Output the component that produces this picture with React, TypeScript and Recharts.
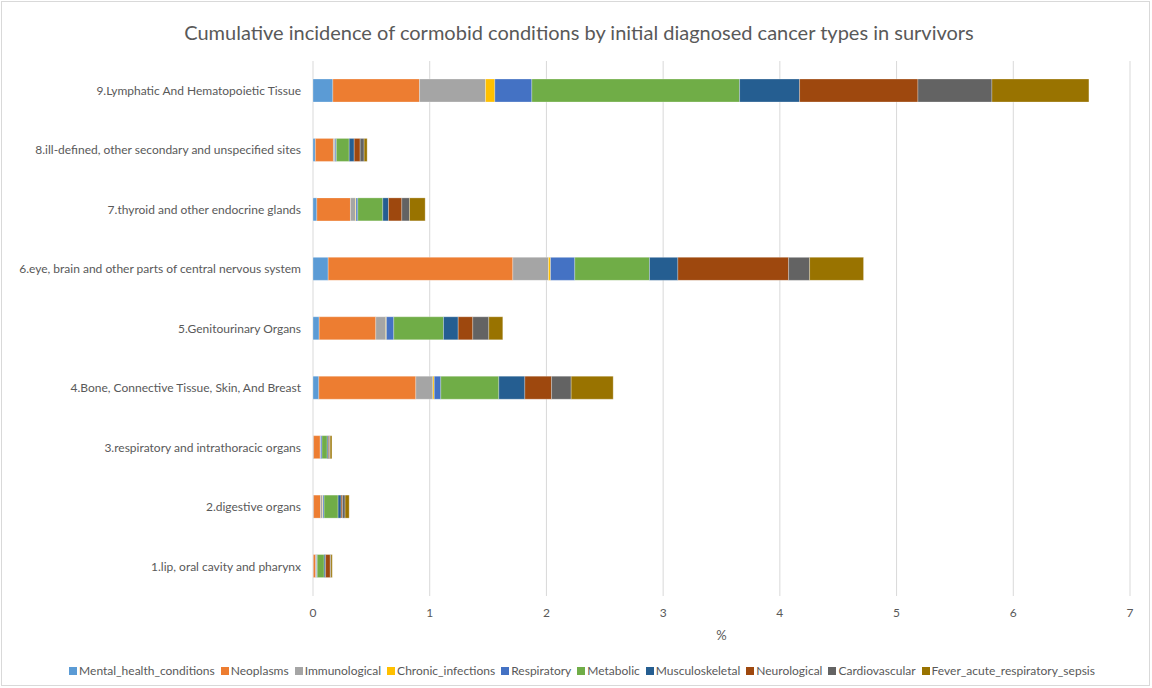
import React from "react";
import { BarChart, Bar, XAxis, YAxis, CartesianGrid, Legend, Label } from "recharts";

const categories = [
  "1.lip, oral cavity and pharynx",
  "2.digestive organs",
  "3.respiratory and intrathoracic organs",
  "4.Bone, Connective Tissue, Skin, And Breast",
  "5.Genitourinary Organs",
  "6.eye, brain and other parts of central nervous system",
  "7.thyroid and other endocrine glands",
  "8.ill-defined, other secondary and unspecified sites",
  "9.Lymphatic And Hematopoietic Tissue",
];

const seriesNames = [
  "Mental_health_conditions",
  "Neoplasms",
  "Immunological",
  "Chronic_infections",
  "Respiratory",
  "Metabolic",
  "Musculoskeletal",
  "Neurological",
  "Cardiovascular",
  "Fever_acute_respiratory_sepsis",
];

const seriesColors = [
  "#5B9BD5",
  "#ED7D31",
  "#A5A5A5",
  "#FFC000",
  "#4472C4",
  "#70AD47",
  "#255E91",
  "#9E480E",
  "#636363",
  "#997300",
];

const mentalHealth = [0.003, 0.005, 0.005, 0.05, 0.053, 0.13, 0.033, 0.02, 0.17];
const neoplasms = [0.02, 0.06, 0.057, 0.831, 0.485, 1.582, 0.288, 0.155, 0.743];
const immunological = [0.008, 0.017, 0.005, 0.146, 0.086, 0.306, 0.043, 0.013, 0.565];
const chronicInfections = [0, 0.003, 0, 0.012, 0.005, 0.017, 0.005, 0.002, 0.08];
const respiratory = [0.005, 0.01, 0.01, 0.056, 0.063, 0.208, 0.015, 0.01, 0.317];
const metabolic = [0.06, 0.12, 0.045, 0.497, 0.426, 0.64, 0.214, 0.11, 1.78];
const musculoskeletal = [0.012, 0.026, 0.01, 0.223, 0.126, 0.243, 0.049, 0.043, 0.514];
const neurological = [0.04, 0.011, 0.01, 0.229, 0.125, 0.949, 0.114, 0.051, 1.014];
const cardiovascular = [0.005, 0.023, 0.005, 0.168, 0.137, 0.18, 0.066, 0.034, 0.634];
const fever = [0.012, 0.035, 0.015, 0.36, 0.12, 0.462, 0.134, 0.026, 0.831];

const xTicks = [0, 1, 2, 3, 4, 5, 6, 7];

const seriesValues = [
  mentalHealth,
  neoplasms,
  immunological,
  chronicInfections,
  respiratory,
  metabolic,
  musculoskeletal,
  neurological,
  cardiovascular,
  fever,
];

const data = categories.map((name, i) => {
  const row: Record<string, number | string> = { name };
  seriesNames.forEach((s, j) => {
    row[s] = seriesValues[j][i];
  });
  return row;
});

const FONT = "Lato, 'Open Sans', sans-serif";
const TEXT = "#595959";

const YTick = (props: any) => {
  const { x, y, payload } = props;
  return (
    <text x={x} y={y} dy="0.355em" textAnchor="end" fill={TEXT} fontSize={12} fontFamily={FONT}>
      {payload.value}
    </text>
  );
};

const LegendContent = (props: any) => {
  const payload = props.payload || [];
  const ordered = [...payload].sort(
    (a: any, b: any) => seriesNames.indexOf(a.value) - seriesNames.indexOf(b.value)
  );
  return (
    <div
      style={{
        display: "flex",
        justifyContent: "center",
        alignItems: "center",
        fontSize: 12,
        fontFamily: FONT,
        lineHeight: "18px",
        paddingLeft: 40,
      }}
    >
      {ordered.map((p: any) => (
        <span key={p.value} style={{ display: "inline-flex", alignItems: "center", marginRight: 6 }}>
          <span style={{ display: "inline-block", width: 8, height: 8, background: p.color, marginRight: 2 }} />
          <span style={{ color: TEXT }}>{p.value}</span>
        </span>
      ))}
    </div>
  );
};

export default function App() {
  return (
    <div style={{ position: "absolute", left: 0, top: 0, width: 1152, height: 688, background: "#fff", fontFamily: FONT }}>
      <div
        style={{
          position: "absolute",
          left: 1,
          top: 1,
          width: 1149,
          height: 685,
          border: "1px solid #d9d9d9",
          boxSizing: "border-box",
        }}
      />
      <div
        style={{
          position: "absolute",
          left: 0,
          top: 19,
          width: 1158,
          textAlign: "center",
          fontSize: 20,
          color: TEXT,
          lineHeight: "26px",
        }}
      >
        Cumulative incidence of cormobid conditions by initial diagnosed cancer types in survivors
      </div>
      <div style={{ position: "absolute", left: 0, top: 0 }}>
        <BarChart
          width={1152}
          height={688}
          data={data}
          layout="vertical"
          margin={{ top: 61, right: 22, left: 0, bottom: 8 }}
          barSize={23}
        >
          <CartesianGrid horizontal={false} stroke="#d9d9d9" />
          <XAxis
            type="number"
            domain={[0, 7]}
            ticks={xTicks}
            interval={0}
            axisLine={false}
            tickLine={false}
            tickSize={6}
            tickMargin={6}
            height={66}
            tick={{ fill: TEXT, fontSize: 12, fontFamily: FONT }}
          >
            <Label value="%" position="insideBottom" offset={22} fill={TEXT} fontSize={13} fontFamily={FONT} />
          </XAxis>
          <YAxis
            type="category"
            dataKey="name"
            reversed
            width={313}
            axisLine={false}
            tickLine={false}
            tickSize={6}
            tickMargin={6}
            interval={0}
            tick={<YTick />}
          />
          <Legend verticalAlign="bottom" align="center" content={<LegendContent />} />
          {seriesNames.map((s, j) => (
            <Bar
              key={s}
              dataKey={s}
              stackId="a"
              fill={seriesColors[j]}
              stroke="rgba(255,255,255,0.45)"
              strokeWidth={0.6}
              isAnimationActive={false}
            />
          ))}
        </BarChart>
      </div>
    </div>
  );
}
